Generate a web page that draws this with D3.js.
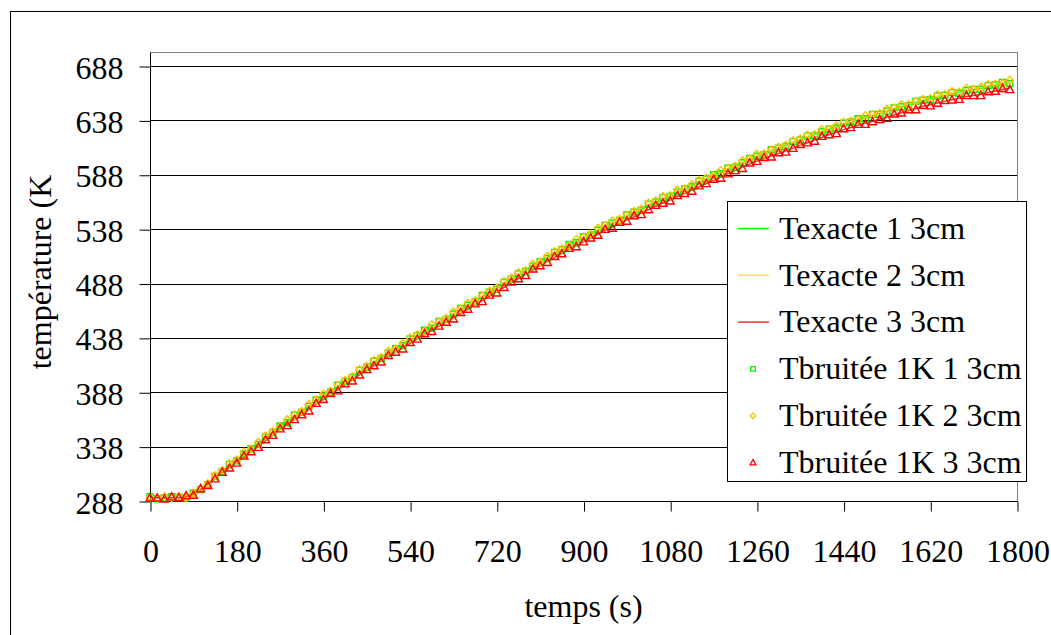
<!DOCTYPE html>
<html>
<head>
<meta charset="utf-8">
<script src="https://cdn.jsdelivr.net/npm/d3@7"></script>
<style>
	body { margin: 0; background: #fff; }
	text { font-family: "Liberation Serif", "Times New Roman", serif; fill: #000; }
	.tick_lbl { font-size: 32px; }
	.axis_title { font-size: 32px; }
	.legend_lbl { font-size: 32px; }
</style>
</head>
<body>
<div id="chart"></div>
<script>
// sample times (s), one point every 15 s
let times = d3.range(0, 1786, 15);

// tick labels
let x_ticks = [0, 180, 360, 540, 720, 900, 1080, 1260, 1440, 1620, 1800];
let y_ticks = [288, 338, 388, 438, 488, 538, 588, 638, 688];

let series_names = ["Texacte 1 3cm", "Texacte 2 3cm", "Texacte 3 3cm",
	"Tbruitée 1K 1 3cm", "Tbruitée 1K 2 3cm", "Tbruitée 1K 3 3cm"];

// exact temperatures (K)
let texacte_1 = [291,291,291,291,291.2,292,294.5,298.5,304,309.5,315,320.5,326,331,336,341,346,351,356,361,366,370.5,375,380,384.5,389,393.5,398,402.5,407,411,415.5,420,424,428,432,436,440,444,448,452,456,460,464,468,472,476,480,484,488,492,496,500,504,508,512,515.5,519,523,526.5,530,533.5,537,540.5,543.5,547,550,553.5,556.5,560,563,566,569,572,575,578,581,584,587,590,593,596,599,602,605,607.5,610,612.5,615,617.5,620,622.5,625,627.5,630,632,634.5,636.5,638.5,640.5,642.5,644.5,646.5,648.5,650.5,652.5,654.5,656.5,658,659.5,661,662.5,664,665.5,666.5,667.5,669,670.5,672,673];
let texacte_2 = [291,291,291,291,291.2,292,295,299.5,305,310.5,316,321.5,327,332,337,342,347,352,357,362,367,371.5,376,381,385.5,390,394.5,399,403.5,408,412,416.5,421,425,429,433,437,441,445,449,453,457,461,465,469,473,477,481,485,489,493,497,501,505,509,513,516.5,520,524,527.5,531,534.5,538,541.5,544.5,548,551,554.5,557.5,561,564,567,570,573,576,579,582,585,588,591,594,597,600,603,606,608.5,611,613.5,616,618.5,621,623.5,626,628.5,631,633,635.5,637.5,639.5,641.5,643.5,645.5,647.5,649.5,651.5,653.5,655.5,657.5,659,660.5,662,663.5,665,666.5,667.5,668.5,670,671.5,673,674];
let texacte_3 = [291,291,291,291,291.2,292,294.5,298.5,303.5,308.5,313.5,318.5,324,328.5,333.5,338.5,343.5,348.5,353.5,358.5,363,367.5,372,377,381.5,386,390.5,395,399.5,404,408,412.5,417,421,425,429,433,437,441,445,449,452.5,456.5,460.5,464.5,468.5,472.5,476.5,480.5,484.5,488.5,492.5,496.5,500.5,504.5,508.5,512,515.5,519.5,523,526.5,530,533.5,537,540,543.5,546.5,549.5,552.5,556,559,562,565,568,571,574,577,580,583,586,589,592,595,598,600.5,603,605.5,607.5,610,612.5,615,617.5,620,622.5,625,627,629.5,631.5,633.5,635.5,637,639,641,643,645,647,649,651,652.5,654,655.5,657,658.5,660,661,662,663.5,665,666.5,667.5];

// noisy temperatures (K)
let tbruitee_1 = [292,290,291,292,291.2,291,295.5,298.5,303,310.5,315,321.5,325,331,336,340,347,351,357,360,367,369.5,375,381,384.5,388,394.5,398,401.5,408,411,416.5,419,424,428,431,437,440,445,447,453,455,460,465,468,471,477,480,483,489,492,497,499,504,508,511,516.5,519,524,525.5,531,532.5,537,541.5,543.5,546,551,553.5,555.5,561,563,567,568,572,575,577,582,584,588,589,594,595,599,603,605,606.5,611,612.5,614,618.5,620,623.5,624,627.5,630,631,635.5,636.5,639.5,639.5,643.5,643.5,646.5,649.5,650.5,651.5,655.5,656.5,657,660.5,661,663.5,663,665.5,666.5,666.5,670,670.5,673,672];
let tbruitee_2 = [291,290,292,291,292.2,291,295,299.5,304,311.5,316,322.5,326,333,336,342,348,352,356,363,367,370.5,377,381,386.5,389,394.5,399,402.5,409,412,417.5,420,426,428,433,438,441,444,450,453,456,462,465,470,472,477,481,484,490,493,498,500,506,508,513,517.5,520,523,528.5,531,533.5,539,541.5,545.5,547,551,554.5,556.5,562,564,568,569,574,575,579,583,585,587,592,594,596,601,603,607,607.5,611,613.5,615,619.5,621,624.5,625,629.5,630,633,636.5,637.5,638.5,642.5,643.5,644.5,648.5,649.5,652.5,652.5,655.5,657.5,658,661.5,662,664.5,664,667.5,666.5,668.5,671,671.5,672,675];
let tbruitee_3 = [291,291,290,292,291.2,293,293.5,299.5,302.5,308.5,314.5,318.5,323,329.5,333.5,337.5,344.5,348.5,354.5,357.5,363,367.5,371,378,381.5,387,389.5,396,398.5,404,409,412.5,416,422,425,428,434,437,442,444,449,452.5,455.5,461.5,464.5,469.5,471.5,477.5,479.5,484.5,489.5,492.5,495.5,501.5,504.5,507.5,513,515.5,520.5,522,526.5,530,532.5,538,539,544.5,545.5,550.5,551.5,556,560,562,564,569,571,573,578,580,584,585,589,592,594,599,600.5,604,604.5,608.5,609,612.5,616,617.5,619,623.5,625,626,630.5,631.5,634.5,634.5,637,639,640,644,645,648,648,652,651.5,654,656.5,657,657.5,661,661,661,664.5,665,667.5,666.5];

draw_chart();

function draw_chart() {
	let W = 1051, H = 635;
	let plot = {left: 150, right: 1017, top: 52, bottom: 501};

	let svg = d3.select("#chart").append("svg")
		.attr("width", W)
		.attr("height", H);

	//outer chart border
	svg.append("rect")
		.attr("x", 10.5).attr("y", 11.5)
		.attr("width", W + 20).attr("height", H + 20)
		.attr("fill", "#fff")
		.attr("stroke", "#000")
		.attr("stroke-width", 1);

	//scales
	let x_scale = d3.scaleLinear().domain([0, 1800]).range([plot.left, plot.right]);
	let y_scale = d3.scaleLinear().domain([288, 700.9]).range([plot.bottom, plot.top]);

	//plot frame (gray top/right)
	svg.append("rect")
		.attr("x", plot.left + 0.5).attr("y", plot.top + 0.5)
		.attr("width", plot.right - plot.left).attr("height", plot.bottom - plot.top)
		.attr("fill", "none")
		.attr("stroke", "#808080");

	//gridlines
	svg.append("g").selectAll("line")
		.data(y_ticks.slice(1))
		.enter().append("line")
		.attr("x1", plot.left).attr("x2", plot.right)
		.attr("y1", d => Math.round(y_scale(d)) + 0.5)
		.attr("y2", d => Math.round(y_scale(d)) + 0.5)
		.attr("stroke", "#000");

	//y axis
	let y_axis = d3.axisLeft(y_scale)
		.tickValues(y_ticks)
		.tickSize(11)
		.tickPadding(16)
		.tickFormat(d3.format("d"));
	let gy = svg.append("g")
		.attr("transform", "translate(" + (plot.left + 0.5) + ",0.5)")
		.call(y_axis);
	gy.select(".domain").attr("d", "M0," + (plot.top) + "V" + (plot.bottom)).attr("stroke", "#000");
	gy.selectAll(".tick line").attr("stroke", "#000");
	gy.selectAll(".tick text")
		.attr("class", "tick_lbl")
		.attr("dy", "0.36em");
	gy.attr("font-family", null).attr("font-size", null);

	//x axis
	let x_axis = d3.axisBottom(x_scale)
		.tickValues(x_ticks)
		.tickSize(10)
		.tickPadding(28)
		.tickFormat(d3.format("d"));
	let gx = svg.append("g")
		.attr("transform", "translate(0.5," + (plot.bottom + 0.5) + ")")
		.call(x_axis);
	gx.select(".domain").attr("d", "M" + plot.left + ",0H" + plot.right).attr("stroke", "#000");
	gx.selectAll(".tick line").attr("stroke", "#000");
	gx.selectAll(".tick text").attr("class", "tick_lbl");
	gx.attr("font-family", null).attr("font-size", null);

	//axis titles
	svg.append("text")
		.attr("class", "axis_title")
		.attr("text-anchor", "middle")
		.attr("x", (plot.left + plot.right) / 2)
		.attr("y", 617)
		.text("temps (s)");

	svg.append("text")
		.attr("class", "axis_title")
		.attr("text-anchor", "middle")
		.attr("transform", "translate(51,272) rotate(-90)")
		.text("température (K");

	//series
	let line_series = [
		{values: texacte_1, color: "#00ff00"},
		{values: texacte_2, color: "#ffd966"},
		{values: texacte_3, color: "#ff3030"}];
	let marker_series = [
		{values: tbruitee_1, color: "#00ee00", shape: "square"},
		{values: tbruitee_2, color: "#ffc000", shape: "diamond"},
		{values: tbruitee_3, color: "#ff0000", shape: "triangle"}];

	let line_gen = d3.line()
		.x((d, i) => x_scale(times[i]))
		.y(d => y_scale(d));

	svg.append("g").selectAll("path")
		.data(line_series)
		.enter().append("path")
		.attr("d", d => line_gen(d.values))
		.attr("fill", "none")
		.attr("stroke", d => d.color)
		.attr("stroke-width", 1.5);

	marker_series.forEach(s => {
		svg.append("g").selectAll("path")
			.data(s.values)
			.enter().append("path")
			.attr("transform", (d, i) => "translate(" + x_scale(times[i]) + "," + y_scale(d) + ")")
			.attr("d", marker_path(s.shape, 1))
			.attr("fill", "none")
			.attr("stroke", s.color)
			.attr("stroke-width", 1.4);
	});

	//legend
	let lg = {x: 727, y: 201, w: 299, h: 280, row: 46.8, first: 228};
	svg.append("rect")
		.attr("x", lg.x + 0.5).attr("y", lg.y + 0.5)
		.attr("width", lg.w).attr("height", lg.h)
		.attr("fill", "#fff")
		.attr("stroke", "#000");

	let legend_items = series_names.map((name, i) => ({
		name: name,
		line: i < 3 ? line_series[i] : null,
		marker: i >= 3 ? marker_series[i - 3] : null
	}));

	let rows = svg.append("g").selectAll("g")
		.data(legend_items)
		.enter().append("g")
		.attr("transform", (d, i) => "translate(0," + (lg.first + i * lg.row) + ")");

	rows.filter(d => d.line).append("line")
		.attr("x1", 738).attr("x2", 769)
		.attr("y1", 0.5).attr("y2", 0.5)
		.attr("stroke", d => d.line.color)
		.attr("stroke-width", 1.5);

	rows.filter(d => d.marker).append("path")
		.attr("transform", "translate(753,0.5)")
		.attr("d", d => marker_path(d.marker.shape, 0.75))
		.attr("fill", "none")
		.attr("stroke", d => d.marker.color)
		.attr("stroke-width", 1.3);

	rows.append("text")
		.attr("class", "legend_lbl")
		.attr("x", 779)
		.attr("y", 0)
		.attr("dy", "0.34em")
		.text(d => d.name);
}

function marker_path(shape, k) {
	// small outline markers
	if (shape === "square") {
		let s = 3 * k;
		return "M" + (-s) + "," + (-s) + "H" + s + "V" + s + "H" + (-s) + "Z";
	}
	if (shape === "diamond") {
		let s = 3.8 * k;
		return "M0," + (-s) + "L" + s + ",0L0," + s + "L" + (-s) + ",0Z";
	}
	let s = 4 * k;
	return "M0," + (-s) + "L" + s + "," + (s * 0.8) + "L" + (-s) + "," + (s * 0.8) + "Z";
}
</script>
</body>
</html>
